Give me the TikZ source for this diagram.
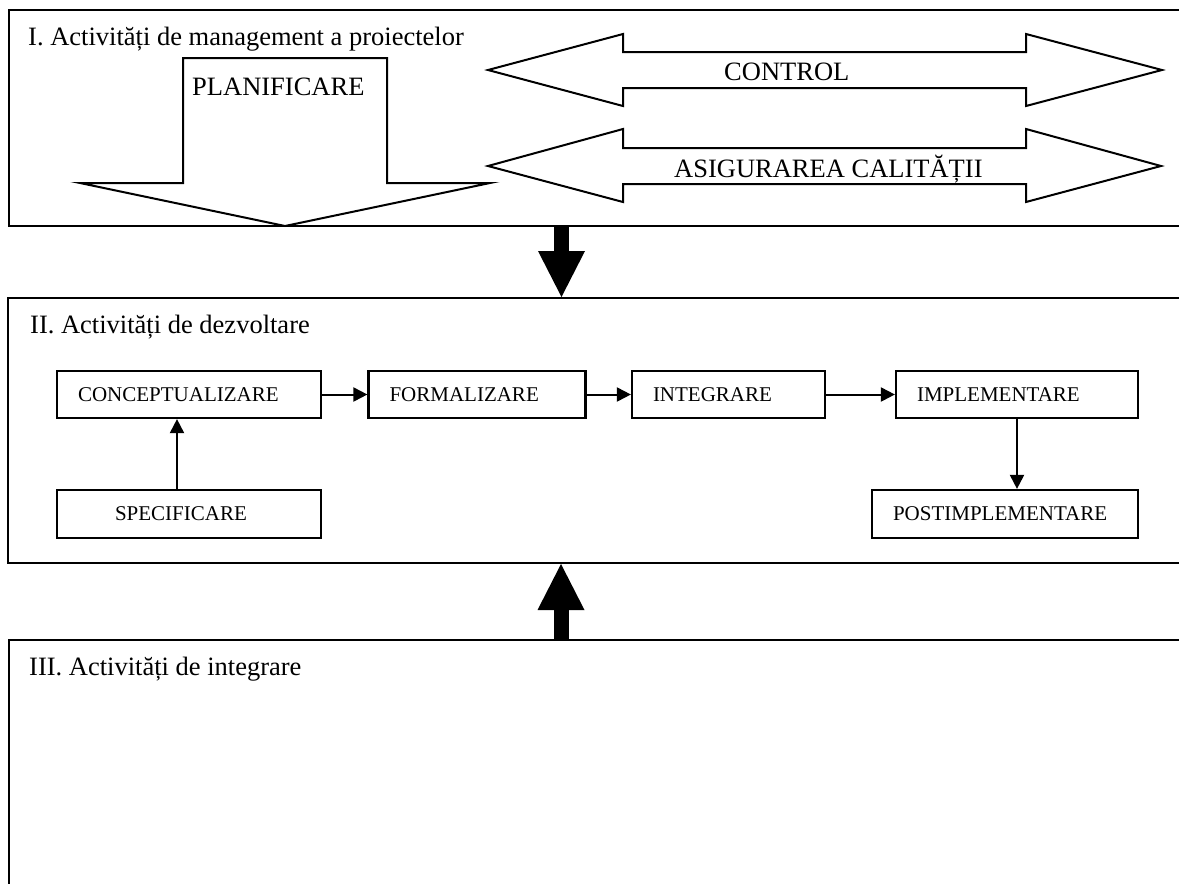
\documentclass[tikz,border=0pt]{standalone}
\usepackage{fontspec}
\setmainfont{Liberation Serif}
\usetikzlibrary{arrows.meta}

\tikzset{
  frame/.style={line width=2.6pt},
  title/.style={anchor=base west, inner sep=0pt, font=\fontsize{26.5}{30}\selectfont},
  hollow/.style={line width=2pt, line join=miter, fill=white},
  arrlabel/.style={anchor=base west, inner sep=0pt, font=\fontsize{26.5}{30}\selectfont},
  stage/.style={draw, line width=2.2pt, inner xsep=21pt, inner ysep=0pt, align=left,
                font=\fontsize{21}{25}\selectfont},
  conn/.style={line width=2pt, -{Triangle[length=14pt,width=14pt]}},
  flow/.style={line width=15pt, -{Triangle[length=46pt,width=47pt,line width=0pt]}}
}

\begin{document}
\begin{tikzpicture}[x=1pt,y=-1pt]
  \useasboundingbox (0,0) rectangle (1179,884);
  \clip (0,0) rectangle (1179,884);

  % three activity frames, open to the right (and III to the bottom)
  \draw[frame] (1200,10) -- (9,10) -- (9,226) -- (1200,226);
  \draw[frame] (1200,298) -- (8,298) -- (8,563) -- (1200,563);
  \draw[frame] (1200,640) -- (9,640) -- (9,900);

  \node[title] (t1) at (28,45) {I. Activități de management a proiectelor};
  \node[title] (t2) at (30,333) {II. Activități de dezvoltare};
  \node[title] (t3) at (29,675) {III. Activități de integrare};

  % planning: wide hollow arrow pointing down
  \draw[hollow] (183,58) -- (387,58) -- (387,183) -- (490,183) -- (285,226)
        -- (80,183) -- (183,183) -- cycle;
  \node[arrlabel] (plan) at (192,95) {PLANIFICARE};

  % control and quality assurance: hollow double arrows
  \draw[hollow] (488,70) -- (623,34) -- (623,52) -- (1026,52) -- (1026,34)
        -- (1162,70) -- (1026,106) -- (1026,88) -- (623,88) -- (623,106) -- cycle;
  \node[arrlabel] (ctrl) at (724,80) {CONTROL};

  \draw[hollow] (488,166) -- (623,129) -- (623,148) -- (1026,148) -- (1026,129)
        -- (1161,166) -- (1026,202) -- (1026,184) -- (623,184) -- (623,202) -- cycle;
  \node[arrlabel] (qa) at (674,177) {ASIGURAREA CALITĂȚII};

  % flows between the frames
  \coordinate (f1) at (561.5,226);
  \coordinate (f2) at (561.5,297);
  \coordinate (f3) at (561,640);
  \coordinate (f4) at (561,564);
  \draw[flow] (f1) -- (f2);
  \draw[flow] (f3) -- (f4);

  % development stages
  \node[stage, text width=222pt, minimum height=47pt] (concept) at (189,394.5) {CONCEPTUALIZARE};
  \node[stage, text width=175pt, minimum height=47pt] (formal) at (477,394.5) {FORMALIZARE};
  \node[stage, text width=151pt, minimum height=47pt] (integ) at (728.5,394.5) {INTEGRARE};
  \node[stage, text width=200pt, minimum height=47pt] (impl) at (1017,394.5) {IMPLEMENTARE};
  \node[stage, text width=222pt, minimum height=48pt] (spec) at (189,514) {\hspace*{37pt}SPECIFICARE};
  \node[stage, text width=224pt, minimum height=48pt] (post) at (1005,514) {POSTIMPLEMENTARE};

  \draw[conn] (concept) -- (formal);
  \draw[conn] (formal) -- (integ);
  \draw[conn] (integ) -- (impl);
  \draw[conn] ([xshift=-12pt]spec.north) -- ([xshift=-12pt]concept.south);
  \draw[conn] (impl.south) -- (impl.south |- post.north);
\end{tikzpicture}
\end{document}
